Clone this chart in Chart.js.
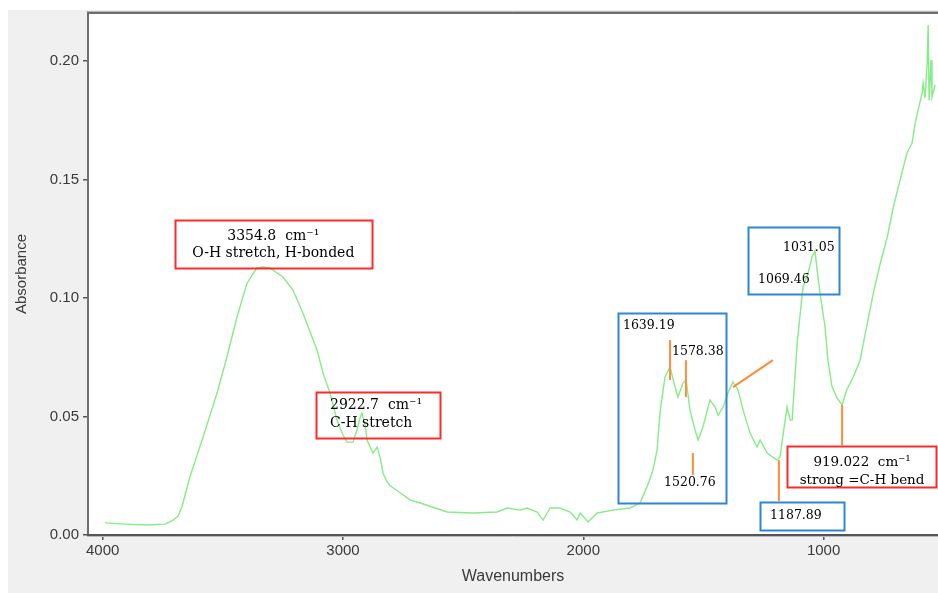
<!DOCTYPE html>
<html><head><meta charset="utf-8">
<script src="https://cdn.jsdelivr.net/npm/chart.js@4/dist/chart.umd.min.js"></script>
<style>html,body{margin:0;padding:0;background:#fff;overflow:hidden}#wrap{position:relative;width:938px;height:593px}</style>
</head><body><div id="wrap"><canvas id="c" width="938" height="593"></canvas></div>
<script>
// ---- data ----
const wavenumbers = [3990,3907,3815,3740,3707,3686,3670,3637,3582,3524,3483,3441,3399,3358,3333,3304,3250,3208,3167,3108,3083,3054,3025,3000,2983,2958,2942,2929,2921,2908,2900,2875,2858,2846,2833,2817,2804,2775,2721,2679,2567,2459,2359,2317,2263,2234,2192,2167,2138,2097,2055,2026,2013,1980,1942,1876,1805,1764,1735,1710,1693,1681,1660,1639,1618,1606,1585,1572,1556,1535,1522,1502,1473,1452,1439,1418,1398,1377,1356,1335,1306,1277,1264,1235,1194,1181,1168,1152,1139,1131,1110,1086,1065,1048,1036,1027,1015,994,982,966,944,923,904,876,848,821,793,764,735,710,689,668,653,632,619,607,590,586,578,569,565,561,553,549,536];
const absorbance = [0.0051,0.0046,0.0042,0.0046,0.0063,0.0080,0.0118,0.0245,0.0414,0.0599,0.0751,0.0920,0.1063,0.1127,0.1131,0.1127,0.1089,0.1034,0.0937,0.0781,0.0684,0.0599,0.0485,0.0422,0.0392,0.0392,0.0443,0.0494,0.0515,0.0464,0.0401,0.0346,0.0371,0.0329,0.0260,0.0225,0.0208,0.0188,0.0148,0.0135,0.0097,0.0093,0.0097,0.0114,0.0105,0.0114,0.0097,0.0063,0.0114,0.0114,0.0097,0.0063,0.0093,0.0055,0.0093,0.0105,0.0114,0.0135,0.0203,0.0274,0.0359,0.0515,0.0667,0.0709,0.0624,0.0582,0.0641,0.0654,0.0527,0.0443,0.0401,0.0456,0.0570,0.0540,0.0506,0.0540,0.0599,0.0646,0.0612,0.0527,0.0430,0.0371,0.0401,0.0346,0.0316,0.0329,0.0430,0.0540,0.0485,0.0485,0.0810,0.1046,0.1105,0.1173,0.1200,0.1118,0.1021,0.0878,0.0738,0.0630,0.0578,0.0549,0.0612,0.0668,0.0738,0.0879,0.1021,0.1148,0.1257,0.1384,0.1468,0.1553,0.1612,0.1654,0.1738,0.1793,0.1865,0.1907,0.1844,0.1992,0.2152,0.1835,0.2004,0.1848,0.1899];
const xTicks = [4000, 3000, 2000, 1000];
const yTicks = [0, 0.05, 0.10, 0.15, 0.20];
const xTitle = 'Wavenumbers';
const yTitle = 'Absorbance';

// ---- annotations (in data coordinates) ----
const annotBoxes = [
  {x1:3699, x2:2879, y1:0.1329, y2:0.1127, color:'#ff2a2a'},
  {x1:3112, x2:2596, y1:0.0603, y2:0.0409, color:'#ff2a2a'},
  {x1:1856, x2:1406, y1:0.0937, y2:0.0135, color:'#2e86d0'},
  {x1:1315, x2:936,  y1:0.1300, y2:0.1017, color:'#2e86d0'},
  {x1:1264, x2:914,  y1:0.0139, y2:0.0021, color:'#2e86d0'},
  {x1:1152, x2:532,  y1:0.0376, y2:0.0203, color:'#ff2a2a'}
];
const annotLines = [
  {x1:1639, y1:0.0823, x2:1639, y2:0.0654},
  {x1:1573, y1:0.0738, x2:1573, y2:0.0582},
  {x1:1544, y1:0.0346, x2:1544, y2:0.0253},
  {x1:1377, y1:0.0624, x2:1211, y2:0.0738},
  {x1:1186, y1:0.0316, x2:1186, y2:0.0143},
  {x1:923,  y1:0.0549, x2:923,  y2:0.0376}
];
const annotTexts = [
  {t:'3354.8  cm\u207B\u00B9', x:3290, y:0.1262, align:'center', size:14},
  {t:'O-H stretch, H-bonded', x:3290, y:0.1190, align:'center', size:14},
  {t:'2922.7  cm\u207B\u00B9', x:3054, y:0.0549, align:'left', size:14},
  {t:'C-H stretch', x:3054, y:0.0473, align:'left', size:14},
  {t:'1639.19', x:1835, y:0.0882, align:'left', size:12.5},
  {t:'1578.38', x:1631, y:0.0772, align:'left', size:12.5},
  {t:'1520.76', x:1664, y:0.0219, align:'left', size:12.5},
  {t:'1031.05', x:1169, y:0.1211, align:'left', size:12.5},
  {t:'1069.46', x:1273, y:0.1076, align:'left', size:12.5},
  {t:'1187.89', x:1223, y:0.0080, align:'left', size:12.5},
  {t:'919.022  cm\u207B\u00B9', x:840, y:0.0304, align:'center', size:13.5},
  {t:'strong =C-H bend', x:840, y:0.0232, align:'center', size:13.5}
];

const framePlugin = {
  id:'frame',
  beforeDraw(chart){
    const {ctx, chartArea:a} = chart;
    ctx.save();
    ctx.fillStyle = '#ffffff'; ctx.fillRect(0,0,chart.width,chart.height);
    ctx.fillStyle = '#f0f0f0'; ctx.fillRect(8,10,chart.width-8,chart.height-10);
    ctx.fillStyle = '#ffffff'; ctx.fillRect(a.left,a.top,a.right-a.left,a.bottom-a.top);
    ctx.restore();
  },
  afterDraw(chart){
    const {ctx, chartArea:a, scales:{x, y}} = chart;
    ctx.save();
    ctx.strokeStyle = '#6e6e6e'; ctx.lineWidth = 2;
    ctx.beginPath(); ctx.moveTo(a.left, a.bottom); ctx.lineTo(a.left, a.top); ctx.lineTo(a.right, a.top); ctx.stroke();
    ctx.strokeStyle = '#b4b4b4'; ctx.lineWidth = 1;
    ctx.beginPath(); ctx.moveTo(a.left-1.5, a.top-1.5); ctx.lineTo(a.right, a.top-1.5); ctx.stroke();
    ctx.strokeStyle = '#555'; ctx.lineWidth = 2;
    ctx.beginPath(); ctx.moveTo(a.left-1, a.bottom); ctx.lineTo(a.right, a.bottom); ctx.stroke();
    ctx.strokeStyle = '#bbb'; ctx.lineWidth = 1;
    ctx.beginPath(); ctx.moveTo(a.left-1, a.bottom+1.5); ctx.lineTo(a.right, a.bottom+1.5); ctx.stroke();
    ctx.lineWidth = 2;
    annotBoxes.forEach(b=>{
      const l = x.getPixelForValue(b.x1), r = x.getPixelForValue(b.x2);
      const t = y.getPixelForValue(b.y1), btm = y.getPixelForValue(b.y2);
      ctx.strokeStyle = b.color; ctx.strokeRect(Math.round(l)+0.5, Math.round(t)+0.5, Math.round(r-l), Math.round(btm-t));
    });
    ctx.strokeStyle = '#ff8c3a'; ctx.lineWidth = 2;
    annotLines.forEach(L=>{
      ctx.beginPath();
      ctx.moveTo(x.getPixelForValue(L.x1), y.getPixelForValue(L.y1));
      ctx.lineTo(x.getPixelForValue(L.x2), y.getPixelForValue(L.y2));
      ctx.stroke();
    });
    ctx.fillStyle = '#000000'; ctx.textBaseline = 'middle';
    annotTexts.forEach(T=>{
      ctx.font = T.size + 'px "DejaVu Serif"';
      ctx.textAlign = T.align;
      ctx.fillText(T.t, x.getPixelForValue(T.x), y.getPixelForValue(T.y));
    });
    ctx.restore();
  }
};

new Chart(document.getElementById('c'), {
  type:'line',
  data:{datasets:[{
    data: wavenumbers.map((w,i)=>({x:w, y:absorbance[i]})),
    borderColor:'#86ec86', borderWidth:1.4, pointRadius:0, tension:0, fill:false
  }]},
  options:{
    responsive:false, animation:false, devicePixelRatio:1,
    layout:{padding:{left:8, top:13, right:0, bottom:0}},
    plugins:{legend:{display:false}, tooltip:{enabled:false}},
    scales:{
      x:{
        type:'linear', reverse:true, min:524, max:4061,
        afterBuildTicks:s=>{ s.ticks = xTicks.map(v=>({value:v})); },
        afterFit:s=>{ s.height = 58; },
        grid:{drawOnChartArea:false, drawTicks:true, tickLength:5, color:'#555', lineWidth:1.5},
        border:{display:false},
        ticks:{padding:2, color:'#3a3a3a', font:{family:'Liberation Sans', size:15}, maxRotation:0, callback:v=>String(v)},
        title:{display:true, text:xTitle, color:'#3a3a3a', font:{family:'Liberation Sans', size:16}, padding:{top:0, bottom:7}}
      },
      y:{
        type:'linear', min:0, max:0.2203,
        afterBuildTicks:s=>{ s.ticks = yTicks.map(v=>({value:v})); },
        afterFit:s=>{ s.width = 80; },
        grid:{drawOnChartArea:false, drawTicks:true, tickLength:5, color:'#555', lineWidth:1.5},
        border:{display:false},
        ticks:{padding:4, color:'#3a3a3a', font:{family:'Liberation Sans', size:15}, callback:v=>v.toFixed(2)},
        title:{display:true, text:yTitle, color:'#3a3a3a', font:{family:'Liberation Sans', size:15}, padding:{top:5, bottom:0}}
      }
    }
  },
  plugins:[framePlugin]
});
</script></body></html>
